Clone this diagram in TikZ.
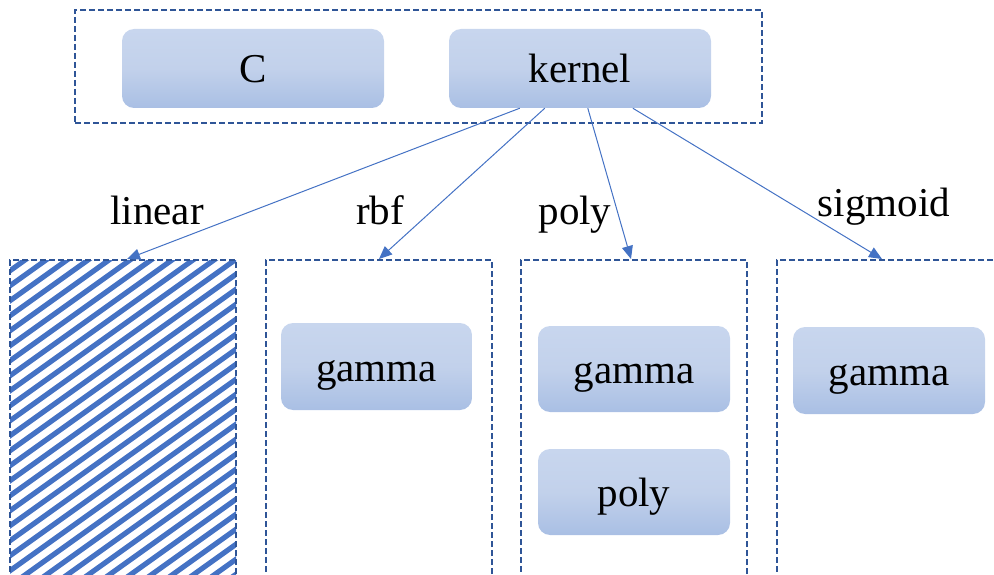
\documentclass[tikz,border=0pt]{standalone}
\usepackage{fontspec}
\setmainfont{Liberation Serif}
\usetikzlibrary{arrows.meta,calc}
\definecolor{dashblue}{HTML}{2F5597}
\definecolor{arrowblue}{HTML}{4472C4}
\definecolor{boxtop}{HTML}{C8D6EE}
\definecolor{boxmid}{HTML}{C2D1EB}
\definecolor{boxbot}{HTML}{A9BFE4}
\tikzset{
  container/.style={draw=dashblue, line width=2pt, dash pattern=on 6pt off 3pt, inner sep=0pt},
  param/.style={rounded corners=12pt, top color=boxtop, bottom color=boxbot, middle color=boxmid,
    shading angle=0, inner sep=0pt, text height=36pt, text depth=7pt,
    font=\fontsize{41}{49}\selectfont, text=black},
  lbl/.style={font=\fontsize{41}{49}\selectfont, text=black, inner sep=0pt, anchor=base},
  conn/.style={draw=arrowblue, line width=1pt, -{Triangle[length=13pt,width=11pt]}}
}
\begin{document}
\begin{tikzpicture}[x=1pt,y=-1pt]
\useasboundingbox (0,0) rectangle (994,575);
\clip (0,0) rectangle (994,575);
% top container
\node[container, minimum width=687pt, minimum height=113pt] (top) at (418.5,66.5) {};
\node[param, minimum width=262pt, minimum height=79pt] (C) at (253,68.5) {C};
\node[param, minimum width=262pt, minimum height=79pt] (kernel) at (580,68.5) {kernel};
% hatched container
\begin{scope}
\clip (10,260) rectangle (236,600);
\foreach \i in {0,...,36} {
  \draw[arrowblue, line width=5.2pt] (-472+\i*21,600) -- ++(504,-360);
}
\end{scope}
\node[container, minimum width=226pt, minimum height=340pt] (b1) at (123,430) {};
\node[container, minimum width=226pt, minimum height=340pt] (b2) at (379,430) {};
\node[container, minimum width=226pt, minimum height=340pt] (b3) at (634,430) {};
\node[container, minimum width=226pt, minimum height=340pt] (b4) at (890,430) {};
% parameter boxes
\node[param, minimum width=191pt, minimum height=87pt] (g2) at (376.5,366.5) {gamma};
\node[param, minimum width=192pt, minimum height=86pt] (g3) at (634,369) {gamma};
\node[param, minimum width=192pt, minimum height=86pt] (p3) at (634,492) {poly};
\node[param, minimum width=192pt, minimum height=87pt] (g4) at (889,370.5) {gamma};
% labels
\node[lbl] (llinear) at (157,225) {linear};
\node[lbl] (lrbf) at (380,225) {rbf};
\node[lbl] (lpoly) at (575,225) {poly};
\node[lbl] (lsig) at (884,216) {sigmoid};
% connectors
\draw[conn] ($(kernel.south west)+(71,0)$) -- ($(b1.north west)+(118,0)$);
\draw[conn] ($(kernel.south west)+(96,0)$) -- ($(b2.north west)+(114,0)$);
\draw[conn] ($(kernel.south west)+(139,0)$) -- ($(b3.north west)+(111,0)$);
\draw[conn] ($(kernel.south west)+(184,0)$) -- ($(b4.north west)+(106,0)$);
\end{tikzpicture}
\end{document}
